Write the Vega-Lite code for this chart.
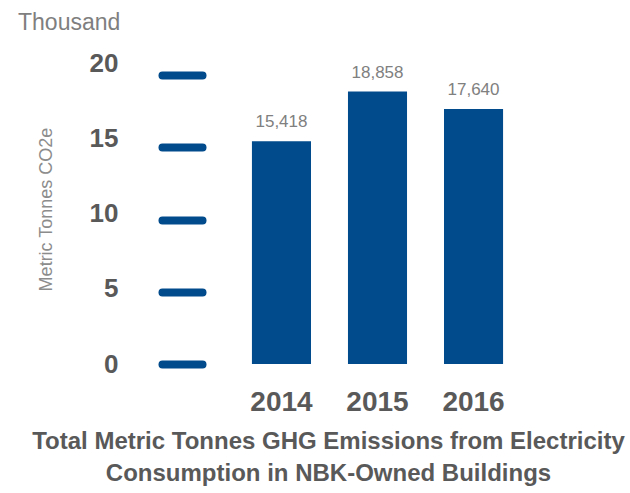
{
  "$schema": "https://vega.github.io/schema/vega-lite/v6.json",
  "width": 351,
  "height": 289,
  "autosize": {"type": "none"},
  "padding": {"left": 202, "top": 75, "right": 77, "bottom": 129},
  "background": "white",
  "config": {"font": "Liberation Sans", "view": {"stroke": null}},
  "title": {
    "text": "Thousand",
    "anchor": "start",
    "frame": "group",
    "dx": -184,
    "offset": -3,
    "baseline": "alphabetic",
    "font": "Liberation Sans",
    "fontSize": 23,
    "fontWeight": "normal",
    "color": "#7f7f7f"
  },
  "data": {
    "values": [
      {"year": "2014", "emissions": 15418},
      {"year": "2015", "emissions": 18858},
      {"year": "2016", "emissions": 17640}
    ]
  },
  "encoding": {
    "x": {
      "field": "year",
      "type": "ordinal",
      "scale": {"paddingInner": 0.385, "paddingOuter": 0.52},
      "axis": {
        "title": ["Total Metric Tonnes GHG Emissions from Electricity", "Consumption in NBK-Owned Buildings"],
        "titleFont": "Liberation Sans",
        "titleFontSize": 24,
        "titleFontWeight": "bold",
        "titleColor": "#595959",
        "titleX": 126,
        "titleY": 84,
        "titleAlign": "center",
        "titleBaseline": "alphabetic",
        "titleLineHeight": 32,
        "labelAngle": 0,
        "labelFont": "Liberation Sans",
        "labelFontSize": 28,
        "labelFontWeight": "bold",
        "labelColor": "#595959",
        "labelBaseline": "alphabetic",
        "labelPadding": 46,
        "ticks": false,
        "tickSize": 0,
        "domain": false
      }
    },
    "y": {
      "field": "emissions",
      "type": "quantitative",
      "scale": {"domain": [0, 20000], "nice": false},
      "axis": {
        "title": "Metric Tonnes CO2e",
        "titleFont": "Liberation Sans",
        "titleFontSize": 18,
        "titleFontWeight": "normal",
        "titleColor": "#8c8c8c",
        "titleX": -156,
        "titleY": 134,
        "titleAngle": -90,
        "titleAlign": "center",
        "titleBaseline": "middle",
        "values": [0, 5000, 10000, 15000, 20000],
        "labelExpr": "datum.value / 1000",
        "labelFont": "Liberation Sans",
        "labelFontSize": 26,
        "labelFontWeight": "bold",
        "labelColor": "#595959",
        "labelBaseline": "alphabetic",
        "labelOffset": {"expr": "8 - 0.6 * datum.value / 1000"},
        "labelPadding": 44,
        "tickSize": 40,
        "tickWidth": 8,
        "tickCap": "round",
        "tickColor": "#014a8c",
        "domain": false,
        "grid": false
      }
    }
  },
  "layer": [
    {"mark": {"type": "bar", "color": "#014a8c"}},
    {
      "mark": {
        "type": "text",
        "dy": -14,
        "baseline": "alphabetic",
        "font": "Liberation Sans",
        "fontSize": 17,
        "color": "#808080"
      },
      "encoding": {"text": {"field": "emissions", "type": "quantitative", "format": ","}}
    }
  ]
}
